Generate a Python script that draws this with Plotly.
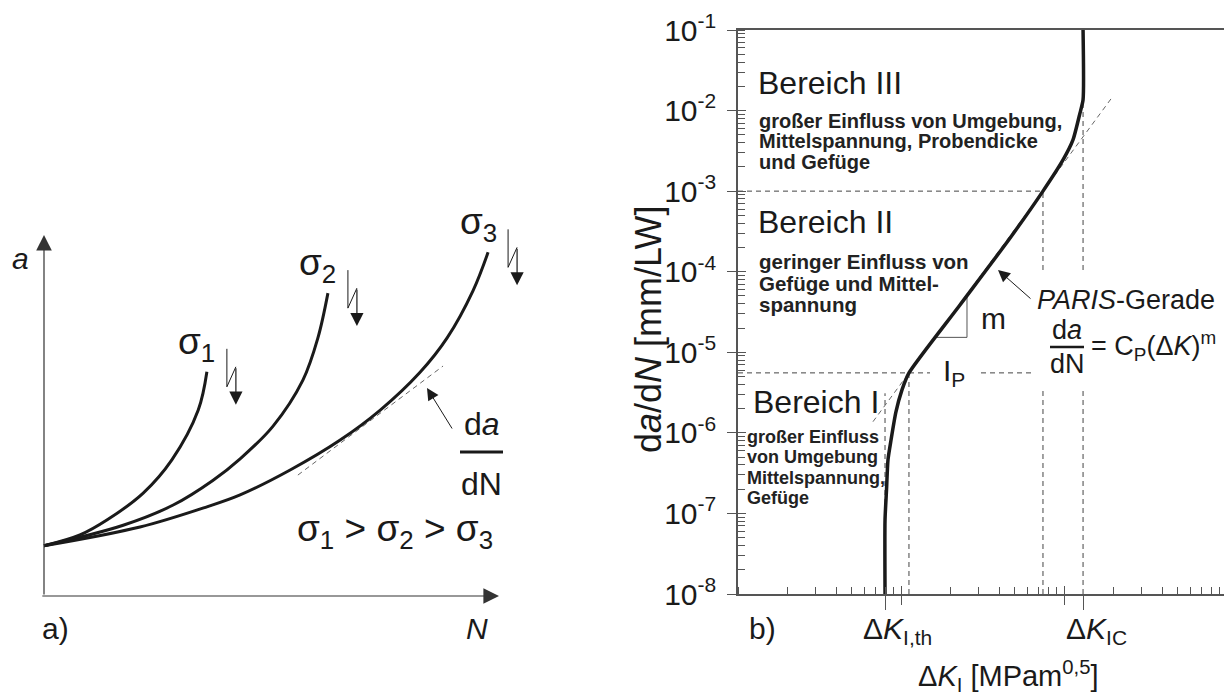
import numpy as np
import plotly.graph_objects as go

W, H = 1224, 697
FONT = "Liberation Sans, Arial, sans-serif"
INK = "#1a1a1a"
AXC = "#555555"
DASH = "#444444"

# ---------------- panel a): crack length a versus load cycles N ----------------
N_S1 = [0.0, 0.79, 1.39, 2.18, 2.81, 3.39, 3.58]
A_S1 = [1.39, 1.69, 2.11, 2.85, 3.77, 5.15, 6.21]
N_S2 = [0.0, 1.74, 2.84, 3.71, 4.31, 5.03, 5.69, 6.02, 6.24]
A_S2 = [1.39, 1.96, 2.52, 3.20, 3.80, 4.70, 5.98, 7.15, 8.39]
N_S3 = [0.0, 2.11, 3.58, 4.31, 5.41, 6.51, 7.39, 8.26, 8.86, 9.43, 9.76]
A_S3 = [1.39, 1.91, 2.47, 2.80, 3.49, 4.32, 5.15, 6.19, 7.15, 8.46, 9.52]
TANGENT_N = [5.58, 8.77]
TANGENT_A = [3.35, 6.37]
SIGMA_LABELS = ["σ<sub>1</sub>", "σ<sub>2</sub>", "σ<sub>3</sub>"]
AXIS_END = 10.0

# pixel scale of panel a) (px per unit) and its origin in the page
AX_PX, AY_PX = 45.5, 36.1
X0_PX, Y0_PX = 44, 596

# ---------------- panel b): crack growth rate da/dN versus ΔK ----------------
DK = [7.98, 7.98, 8.15, 8.32, 8.69, 9.31, 10.14, 11.19, 23.0, 46.7, 74.3,
      98.6, 113.5, 125.3, 130.9, 130.9]
DADN = [1.0e-8, 8.3e-8, 1.96e-7, 4.62e-7, 8.2e-7, 1.82e-6, 3.41e-6, 5.55e-6,
        3.87e-5, 2.62e-4, 1.0e-3, 2.44e-3, 4.32e-3, 9.3e-3, 1.36e-2, 1.0e-1]
DK_TH = 7.98
DK_IC = 130.9
KNEE = (11.19, 5.55e-6)      # start of PARIS range
UPPER = (74.3, 1.0e-3)       # end of PARIS range
PARIS_DK_RANGE = (6.73, 197.0)
TRIANGLE_DK = (16.2, 25.4)
Y_DECADES = [1e-8, 1e-7, 1e-6, 1e-5, 1e-4, 1e-3, 1e-2, 1e-1]
Y_TICKTEXT = ["10<sup>-8</sup>", "10<sup>-7</sup>", "10<sup>-6</sup>", "10<sup>-5</sup>",
              "10<sup>-4</sup>", "10<sup>-3</sup>", "10<sup>-2</sup>", "10<sup>-1</sup>"]
X_DECADES = [10, 100]

PARIS_M = np.log10(UPPER[1] / KNEE[1]) / np.log10(UPPER[0] / KNEE[0])


def paris(dk):
    return KNEE[1] * (np.asarray(dk, dtype=float) / KNEE[0]) ** PARIS_M


def P(px, py):
    """page pixel -> paper coordinates"""
    return px / W, 1 - py / H


fig = go.Figure()

# ---- panel a) traces ----
fig.add_trace(go.Scatter(x=TANGENT_N, y=TANGENT_A, mode="lines",
                         line=dict(color="#666", width=1, dash="5px,4px"),
                         xaxis="x", yaxis="y", hoverinfo="skip"))
for n, a in ((N_S1, A_S1), (N_S2, A_S2), (N_S3, A_S3)):
    fig.add_trace(go.Scatter(x=n, y=a, mode="lines",
                             line=dict(color=INK, width=3, shape="spline", smoothing=1.0),
                             xaxis="x", yaxis="y", hoverinfo="skip"))

annotations = []
shapes = []


def txt(px, py, s, size=30, xanchor="center", yanchor="middle", color=INK, **kw):
    x, y = P(px, py)
    d = dict(x=x, y=y, xref="paper", yref="paper", text=s, showarrow=False,
             font=dict(family=FONT, size=size, color=color),
             xanchor=xanchor, yanchor=yanchor)
    d.update(kw)
    return d


def arrow(x, y, ax, ay, xr, yr, size=2.4, width=1.2, color=INK):
    return dict(x=x, y=y, ax=ax, ay=ay, xref=xr, yref=yr, axref=xr, ayref=yr,
                text="", showarrow=True, arrowhead=2, arrowsize=size,
                arrowwidth=width, arrowcolor=color)


# axes of panel a) drawn as arrows
annotations.append(arrow(0, AXIS_END, 0, 0, "x", "y", size=2.6, width=1.2, color="#333"))
annotations.append(arrow(AXIS_END, 0, -0.07, 0, "x", "y", size=2.6, width=1.2, color="#333"))

# stress symbol (zig-zag arrow) next to each curve end
ZIG = [(20, -23), (20, 15), (29, -5)]
TIP = (29, 33)
for (n, a), lab in zip(((N_S1, A_S1), (N_S2, A_S2), (N_S3, A_S3)), SIGMA_LABELS):
    ne, ae = n[-1], a[-1]
    zx = [ne + dx / AX_PX for dx, dy in ZIG]
    zy = [ae - dy / AY_PX for dx, dy in ZIG]
    fig.add_trace(go.Scatter(x=zx, y=zy, mode="lines", line=dict(color=INK, width=1),
                             xaxis="x", yaxis="y", hoverinfo="skip"))
    annotations.append(arrow(ne + TIP[0] / AX_PX, ae - TIP[1] / AY_PX, zx[-1], zy[-1],
                             "x", "y", size=2.2, width=1.2))
    annotations.append(dict(x=ne, y=ae, xref="x", yref="y", text=lab, showarrow=False,
                            xshift=-10, yshift=28,
                            font=dict(family=FONT, size=37, color=INK)))

# da/dN arrow in panel a)
annotations.append(arrow((427 - X0_PX) / AX_PX, (Y0_PX - 388) / AY_PX,
                         (453 - X0_PX) / AX_PX, (Y0_PX - 430) / AY_PX, "x", "y",
                         size=2.4, width=1.0))

annotations += [
    txt(20, 258, "<i>a</i>", 30),
    txt(40, 628, "a)", 30, xanchor="left"),
    txt(477, 628, "<i>N</i>", 30),
    txt(482, 424, "d<i>a</i>", 32),
    txt(481, 484, "dN", 32),
    txt(395, 531, "σ<sub>1</sub> > σ<sub>2</sub> > σ<sub>3</sub>", 37),
]
x0, y0 = P(460, 452)
x1, _ = P(503, 452)
shapes.append(dict(type="line", xref="paper", yref="paper", x0=x0, x1=x1, y0=y0, y1=y0,
                   line=dict(color=INK, width=3)))

# ---- panel b) traces ----
dash_line = dict(color=DASH, width=1, dash="5px,4px")


def dashed(x, y):
    fig.add_trace(go.Scatter(x=x, y=y, mode="lines", line=dash_line,
                             xaxis="x2", yaxis="y2", hoverinfo="skip"))


dashed([1, UPPER[0]], [KNEE[1], KNEE[1]])
dashed([1, UPPER[0]], [UPPER[1], UPPER[1]])
dashed([KNEE[0], KNEE[0]], [1e-8, KNEE[1]])
dashed([UPPER[0], UPPER[0]], [1e-8, UPPER[1]])
dashed([DK_IC, DK_IC], [1e-8, 1.4e-2])
dashed([DK_TH, DK_TH], [1e-8, 3.1e-6])
pk = np.array(PARIS_DK_RANGE)
fig.add_trace(go.Scatter(x=pk, y=paris(pk), mode="lines",
                         line=dict(color="#666", width=1, dash="5px,4px"),
                         xaxis="x2", yaxis="y2", hoverinfo="skip"))
# slope triangle
t0, t1 = TRIANGLE_DK
fig.add_trace(go.Scatter(x=[t0, t1, t1], y=[paris(t0), paris(t0), paris(t1)], mode="lines",
                         line=dict(color="#555", width=1), xaxis="x2", yaxis="y2",
                         hoverinfo="skip"))
fig.add_trace(go.Scatter(x=DK, y=DADN, mode="lines",
                         line=dict(color=INK, width=3.5, shape="spline", smoothing=0.6),
                         xaxis="x2", yaxis="y2", hoverinfo="skip"))
# empty traces so that the overlay tick axes get drawn
fig.add_trace(go.Scatter(x=[], y=[], xaxis="x3", yaxis="y2", hoverinfo="skip"))
fig.add_trace(go.Scatter(x=[], y=[], xaxis="x4", yaxis="y2", hoverinfo="skip"))
fig.add_trace(go.Scatter(x=[], y=[], xaxis="x2", yaxis="y3", hoverinfo="skip"))

# white patches behind the labels that interrupt dashed lines
for (ax0, ay0, ax1, ay1) in ((1034, 272, 1222, 388), (930, 360, 978, 386)):
    xa, ya = P(ax0, ay0)
    xb, yb = P(ax1, ay1)
    shapes.append(dict(type="rect", xref="paper", yref="paper", x0=xa, x1=xb, y0=yb, y1=ya,
                       fillcolor="white", line=dict(width=0), layer="above"))

x0, y0 = P(1050, 347)
x1, _ = P(1084, 347)
shapes.append(dict(type="line", xref="paper", yref="paper", x0=x0, x1=x1, y0=y0, y1=y0,
                   line=dict(color=INK, width=2.5)))

# PARIS arrow
annotations.append(arrow((998 - 738) / 163, -1 - (270 - 30) / 80.6,
                         (1032 - 738) / 163, -1 - (300 - 30) / 80.6,
                         "x2", "y2", size=2.4, width=1.0))


def bold_lines(px, pys, lines, size):
    return [txt(px, py, "<b>%s</b>" % s, size, xanchor="left", color="#222")
            for py, s in zip(pys, lines)]


annotations += [
    txt(756, 83, "Bereich III", 32, xanchor="left"),
    txt(756, 222, "Bereich II", 32, xanchor="left"),
    txt(751, 402, "Bereich I", 32, xanchor="left"),
]
annotations += bold_lines(757, [121, 141, 162],
                          ["großer Einfluss von Umgebung,", "Mittelspannung, Probendicke", "und Gefüge"], 20)
annotations += bold_lines(757, [261, 283, 304],
                          ["geringer Einfluss von", "Gefüge und Mittel-", "spannung"], 20.5)
annotations += bold_lines(745, [437, 457, 478, 498],
                          ["großer Einfluss", "von Umgebung", "Mittelspannung,", "Gefüge"], 18)

annotations += [
    txt(993, 318, "m", 30),
    txt(954, 372, "I<sub>P</sub>", 30),
    txt(1035, 300, "<i>PARIS</i>-Gerade", 27, xanchor="left"),
    txt(1067, 330, "d<i>a</i>", 27),
    txt(1067, 364, "dN", 27),
    txt(1089, 346, "= C<sub>P</sub>(Δ<i>K</i>)<sup>m</sup>", 27, xanchor="left"),
    txt(747, 628, "b)", 30, xanchor="left"),
    txt(861, 630, "Δ<i>K</i><sub>I,th</sub>", 30, xanchor="left"),
    txt(1064, 630, "Δ<i>K</i><sub>IC</sub>", 30, xanchor="left"),
    txt(1008, 676, "Δ<i>K</i><sub>I</sub> [MPam<sup>0,5</sup>]", 29),
    txt(649, 330, "d<i>a</i>/d<i>N</i> [mm/LW]", 36, textangle=-90),
]

# axis geometry of panel b)
XB0, XB1 = 738, W
YB_TOP, YB_BOT = 30, 594
xdom = [XB0 / W, XB1 / W]
ydom = [1 - YB_BOT / H, 1 - YB_TOP / H]
xrng = [0, (XB1 - XB0) / 163]
yrng = [-8, -1]

common_x = dict(type="log", domain=xdom, range=xrng, anchor="y2", showgrid=False,
                zeroline=False, showticklabels=False, tickcolor=AXC, tickwidth=1.3,
                automargin=False)

fig.update_layout(
    width=W, height=H, margin=dict(l=0, r=0, t=0, b=0, pad=0, autoexpand=False),
    paper_bgcolor="white", plot_bgcolor="rgba(0,0,0,0)", showlegend=False,
    xaxis=dict(domain=[0, 560 / W], range=[-X0_PX / AX_PX, (560 - X0_PX) / AX_PX],
               visible=False, anchor="y", automargin=False),
    yaxis=dict(domain=[0, 1], range=[-(H - Y0_PX) / AY_PX, Y0_PX / AY_PX],
               visible=False, anchor="x", automargin=False),
    xaxis2=dict(**common_x, showline=True, linecolor=AXC, linewidth=1.5, mirror=True,
                tickmode="array", tickvals=X_DECADES, ticks="outside", ticklen=9,
                minor=dict(ticks="inside", ticklen=7, tickcolor=AXC, tickwidth=1,
                           dtick="D1", showgrid=False)),
    xaxis3=dict(**common_x, overlaying="x2", showline=False, tickmode="array",
                tickvals=X_DECADES, ticks="inside", ticklen=8),
    xaxis4=dict(**common_x, overlaying="x2", showline=False, tickmode="array",
                tickvals=[DK_TH, DK_IC], ticks="outside", ticklen=15),
    yaxis2=dict(type="log", domain=ydom, range=yrng, anchor="x2", showgrid=False,
                zeroline=False, showline=True, linecolor=AXC, linewidth=1.5,
                tickmode="array", tickvals=Y_DECADES, ticktext=Y_TICKTEXT,
                ticks="outside", ticklen=9, tickcolor=AXC, tickwidth=1.3,
                ticklabelstandoff=5, automargin=False,
                tickfont=dict(family=FONT, size=30, color=INK),
                minor=dict(ticks="inside", ticklen=7, tickcolor=AXC, tickwidth=1,
                           dtick="D1", showgrid=False)),
    yaxis3=dict(type="log", domain=ydom, range=yrng, anchor="x2", overlaying="y2",
                showgrid=False, zeroline=False, showline=False, showticklabels=False,
                tickmode="array", tickvals=Y_DECADES, ticks="inside", ticklen=8,
                tickcolor=AXC, tickwidth=1.3, automargin=False),
    annotations=annotations,
    shapes=shapes,
)

fig.write_html("out.html")
